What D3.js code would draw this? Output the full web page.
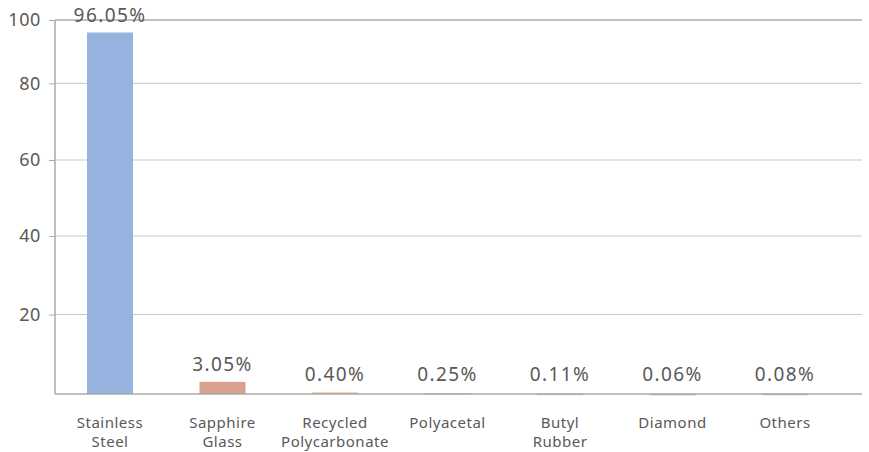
<!DOCTYPE html>
<html>
<head>
<meta charset="utf-8">
<script src="https://cdn.jsdelivr.net/npm/d3@7"></script>
<style>
  body { margin: 0; background: #fff; }
  svg { display: block; }
</style>
</head>
<body>
<div id="chart"></div>
<script>
const categories = [['Stainless', 'Steel'], ['Sapphire', 'Glass'], ['Recycled', 'Polycarbonate'], ['Polyacetal'], ['Butyl', 'Rubber'], ['Diamond'], ['Others']];
const values = [96.05, 3.05, 0.40, 0.25, 0.11, 0.06, 0.08];
const valueLabels = ['96.05%', '3.05%', '0.40%', '0.25%', '0.11%', '0.06%', '0.08%'];
const colors = ['#95b3de', '#d8a08d', '#e3bf7a', '#c8cfa0', '#d9a2b9', '#b9a1c2', '#b4b4bb'];
const yTicks = [20, 40, 60, 80, 100];

const width = 869, height = 452;
const left = 55, right = 862;

const svg = d3.select('#chart').append('svg')
  .attr('width', width)
  .attr('height', height)
  .attr('font-family', '"Noto Sans", sans-serif');

// the source axis is not evenly spaced, so the scale follows its tick positions
const y = d3.scaleLinear()
  .domain([0, 20, 40, 60, 80, 100])
  .range([394, 314.5, 236, 160, 83.3, 20]);

const x = d3.scalePoint()
  .domain(d3.range(categories.length))
  .range([110, 785]);

const barW = 46;

// grid lines
svg.append('g')
  .selectAll('line')
  .data(yTicks)
  .join('line')
  .attr('x1', left)
  .attr('x2', right)
  .attr('y1', d => y(d))
  .attr('y2', d => y(d))
  .attr('stroke', d => d == 100 ? '#aaaaaa' : '#c8c8c8')
  .attr('stroke-width', d => d == 100 ? 1.5 : 1);

// y axis
const yAxis = svg.append('g')
  .attr('transform', `translate(${left},0)`)
  .call(d3.axisLeft(y).tickValues(yTicks).tickSize(6).tickPadding(8));
yAxis.select('.domain').remove();
yAxis.selectAll('.tick line').attr('stroke', '#aaaaaa');
yAxis.selectAll('.tick text')
  .attr('font-size', 18)
  .attr('letter-spacing', 0.6)
  .attr('fill', '#595959')
  .attr('font-family', '"Noto Sans", sans-serif');

svg.append('line')
  .attr('x1', left).attr('x2', left)
  .attr('y1', y(100)).attr('y2', y(0))
  .attr('stroke', '#aaaaaa')
  .attr('stroke-width', 1.5);

// bars
svg.append('g')
  .selectAll('rect')
  .data(values)
  .join('rect')
  .attr('x', (d, i) => x(i) - barW / 2)
  .attr('y', d => y(d))
  .attr('width', barW)
  .attr('height', d => Math.max(y(0) - y(d), 1.5))
  .attr('fill', (d, i) => colors[i]);

// baseline
svg.append('line')
  .attr('x1', left).attr('x2', right)
  .attr('y1', y(0)).attr('y2', y(0))
  .attr('stroke', '#aaaaaa')
  .attr('stroke-width', 1.5);

// value labels
svg.append('g')
  .selectAll('text')
  .data(values)
  .join('text')
  .attr('x', (d, i) => x(i))
  .attr('y', d => Math.min(y(d), y(0) - 2) - 11)
  .attr('text-anchor', 'middle')
  .attr('font-size', 19)
  .attr('letter-spacing', 1.4)
  .attr('fill', '#595959')
  .text((d, i) => valueLabels[i]);

// category labels
const cat = svg.append('g')
  .selectAll('text')
  .data(categories)
  .join('text')
  .attr('x', (d, i) => x(i))
  .attr('y', 428)
  .attr('text-anchor', 'middle')
  .attr('font-size', 15)
  .attr('letter-spacing', 0.5)
  .attr('fill', '#595959');
cat.selectAll('tspan')
  .data(d => d)
  .join('tspan')
  .attr('x', function() { return this.parentNode.getAttribute('x'); })
  .attr('dy', (d, i) => i == 0 ? 0 : 19)
  .text(d => d);
</script>
</body>
</html>
